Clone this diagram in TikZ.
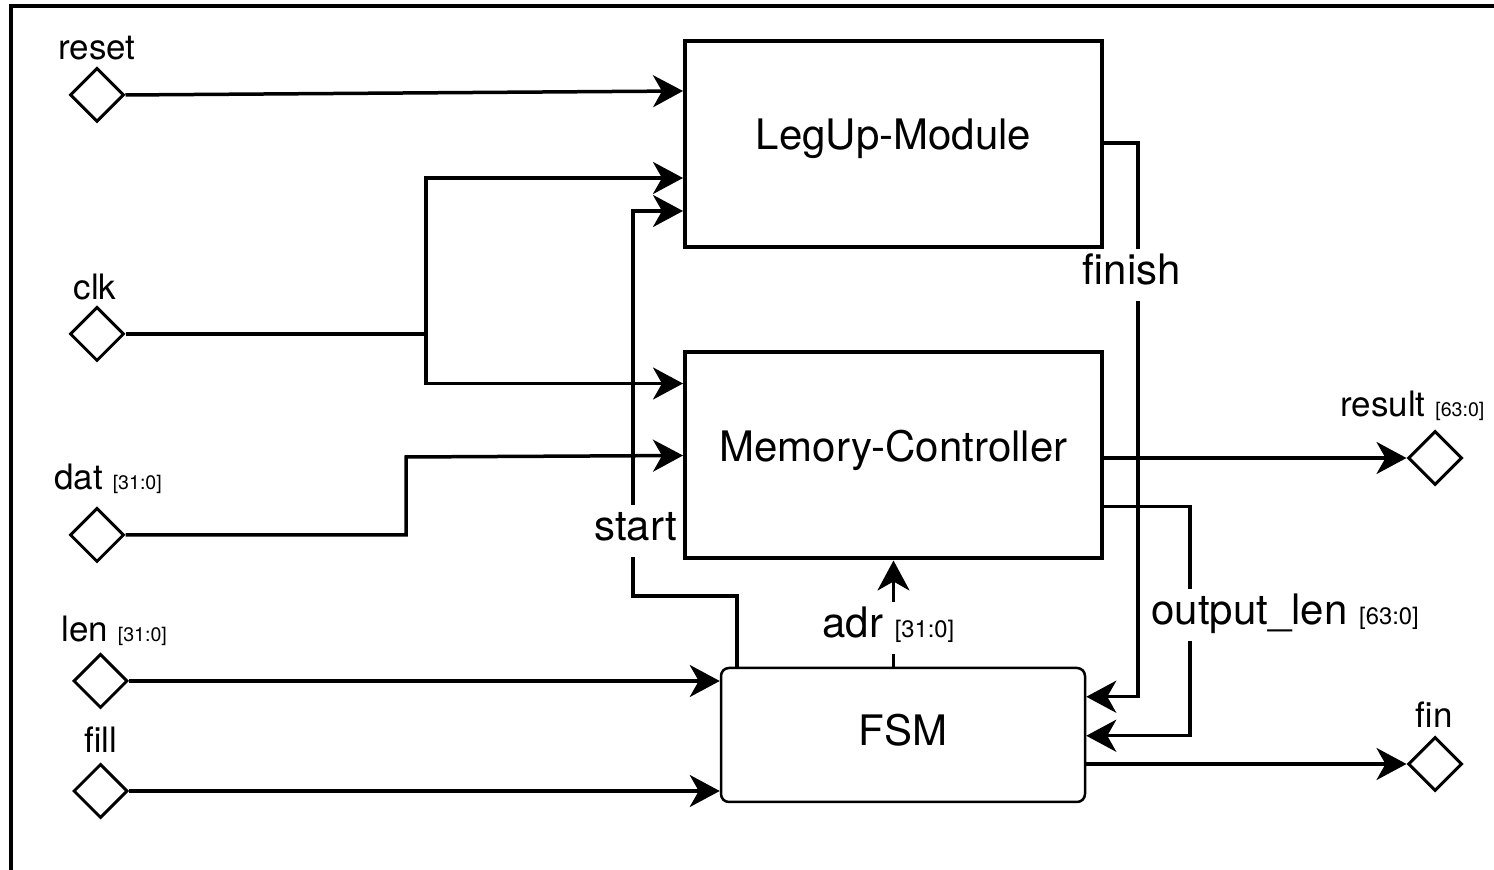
\documentclass[tikz,border=0pt]{standalone}
\usepackage{fontspec}
\setmainfont{TeX Gyre Heros}
\usetikzlibrary{shapes.geometric,arrows.meta,calc}
\newcommand{\busw}[1]{{\fontsize{9.8}{12}\selectfont[#1]}}
\newcommand{\buswb}[1]{{\fontsize{11.9}{14}\selectfont[#1]}}
\begin{document}
\begin{tikzpicture}[x=0.5pt,y=-0.5pt,
  box/.style={draw,line width=2pt,minimum width=208.5pt,minimum height=103pt,inner sep=0pt,font=\fontsize{21}{25}\selectfont,text height=15pt,text depth=9pt},
  fsmbox/.style={draw,line width=1.25pt,rounded corners=4pt,minimum width=182pt,minimum height=67pt,inner sep=0pt,font=\fontsize{21}{25}\selectfont,text height=15pt,text depth=4pt},
  port/.style={draw,diamond,line width=1.5pt,minimum width=27pt,minimum height=27pt,inner sep=0pt,aspect=1},
  portlbl/.style={font=\fontsize{17.5}{21}\selectfont,inner sep=0pt},
  siglbl/.style={font=\fontsize{21}{25}\selectfont,fill=white,inner sep=2pt,text height=16pt,text depth=6pt},
  conn/.style={line width=1.75pt,-{Stealth[length=15pt,width=16pt,inset=4.5pt]}},
  wire/.style={line width=1.75pt}]
\useasboundingbox (0,0) rectangle (1494,870);
% frame
\draw[line width=2pt] (11,870) -- (11,6) -- (1494,6);

% blocks
\node[box] (legup) at (893.5,144) {LegUp-Module};
\node[box] (mem) at (893.5,455.5) {Memory-Controller};
\node[fsmbox] (fsm) at (903,735) {FSM};

% ports
\node[port] (reset) at (97,95) {};
\node[port] (clk) at (97,334) {};
\node[port] (dat) at (97,535) {};
\node[port] (len) at (100.5,681) {};
\node[port] (fill) at (100.5,791) {};
\node[port] (result) at (1435,458) {};
\node[port] (fin) at (1435,764) {};

% port labels
\node[portlbl,anchor=base] (resetlbl) at (97,60) {reset};
\node[portlbl,anchor=base] (clklbl) at (95,300) {clk};
\node[portlbl,anchor=base west] (datlbl) at (54,490) {dat \busw{31:0}};
\node[portlbl,anchor=base west] (lenlbl) at (61,642) {len \busw{31:0}};
\node[portlbl,anchor=base] (filllbl) at (101,753) {fill};
\node[portlbl,anchor=base west] (resultlbl) at (1340,417) {result \busw{63:0}};
\node[portlbl,anchor=base] (finlbl) at (1434,728) {fin};

% junction / bend points
\coordinate (clkj) at (426,334);
\coordinate (datbend) at (406,457);
\coordinate (startcorner) at (633,596);

% connectors
\draw[conn] (reset.east) -- ([yshift=-26pt]legup.north west);
\draw[wire] (clk.east) -- (clkj);
\draw[conn] (clkj) |- ([yshift=-69.5pt]legup.north west);
\draw[conn] (clkj) |- ([yshift=-16.5pt]mem.north west);
\draw[conn] (dat.east) -| (datbend) -- ([yshift=-52.5pt]mem.north west);
\draw[conn] ([xshift=8.5pt]fsm.north west) |- (startcorner) |- ([yshift=-86pt]legup.north west);
\draw[conn] ([yshift=-52pt]legup.north east) -- ++(17pt,0) |- ([yshift=-15pt]fsm.north east);
\draw[conn] ([yshift=-78pt]mem.north east) -- ++(43pt,0) |- ([yshift=-34.5pt]fsm.north east);
\draw[conn] (mem.east |- result.west) -- (result.west);
\draw[conn] (fsm.north -| mem.south) -- (mem.south);
\draw[conn] (len.east) -- (len.east -| fsm.west);
\draw[conn] (fill.east) -- (fill.east -| fsm.west);
\draw[conn] (fsm.east |- fin.west) -- (fin.west);

% signal labels
\node[siglbl,anchor=base west] (startlbl) at (590,541) {start};
\node[siglbl,anchor=base] (finishlbl) at (1132,285) {finish};
\node[siglbl,anchor=base west] (adrlbl) at (818,638) {adr \buswb{31:0}};
\node[siglbl,anchor=base west] (outlenlbl) at (1147,625) {output\_len \buswb{63:0}};
\end{tikzpicture}
\end{document}
